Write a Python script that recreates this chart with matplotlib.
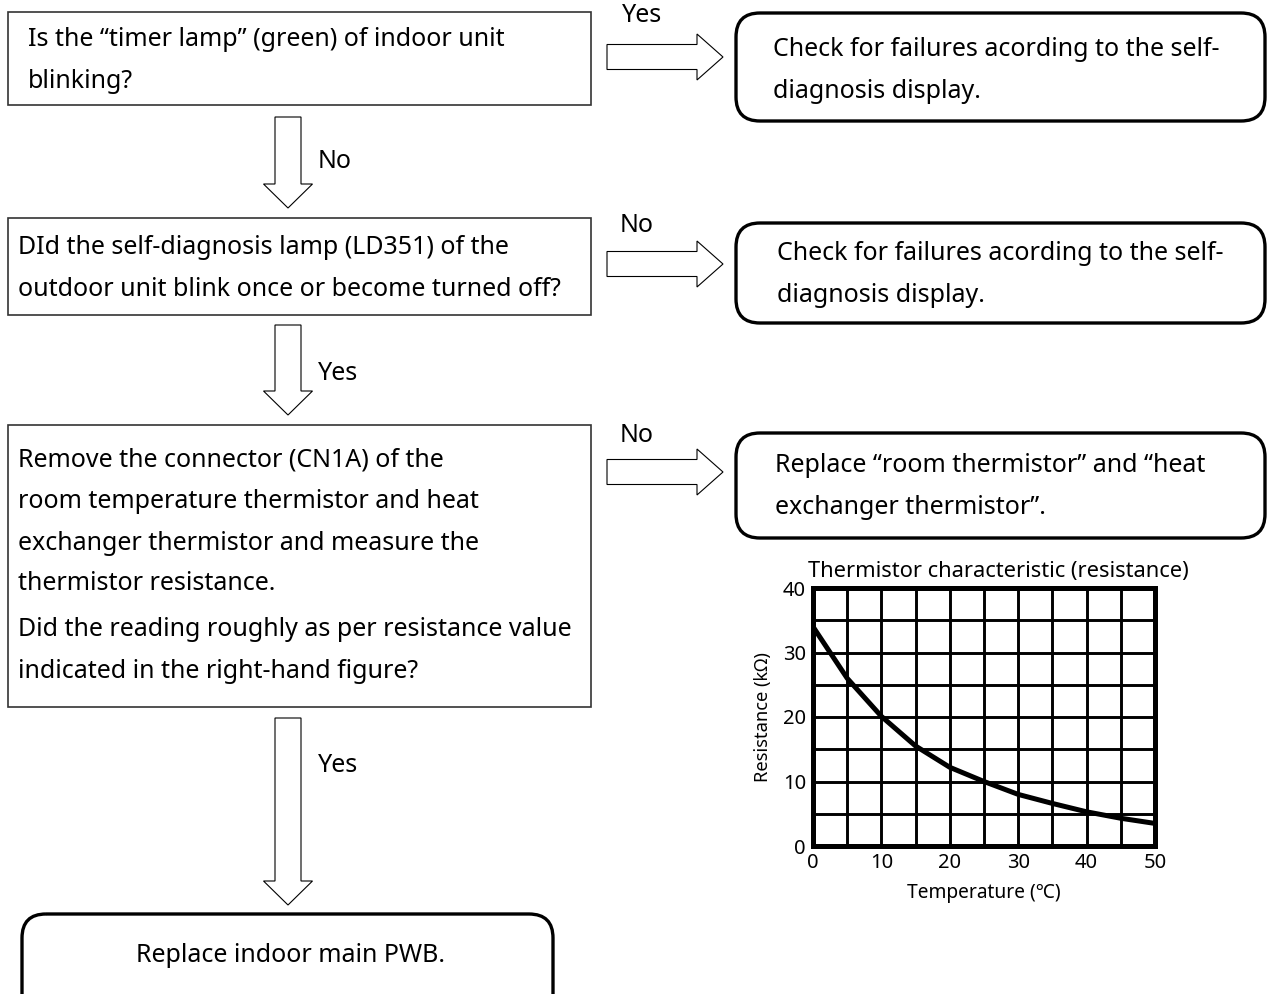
import matplotlib
matplotlib.use("Agg")
import matplotlib.pyplot as plt
from matplotlib.patches import Rectangle, FancyBboxPatch, Polygon

plt.rcParams['font.family'] = ['Noto Sans', 'DejaVu Sans']

# ---- data for the thermistor chart ----
temperature_c = [0, 5, 10, 15, 20, 25, 30, 35, 40, 45, 50]
resistance_kohm = [34.0, 26.0, 20.1, 15.5, 12.2, 10.0, 8.0, 6.6, 5.3, 4.3, 3.5]
x_ticks = [0, 10, 20, 30, 40, 50]
y_ticks = [0, 10, 20, 30, 40]
chart_title = "Thermistor characteristic (resistance)"
x_label = "Temperature (℃)"
y_label = "Resistance (kΩ)"

# ---- flowchart texts ----
q1_lines = ["Is the “timer lamp” (green) of indoor unit", "blinking?"]
q2_lines = ["DId the self-diagnosis lamp (LD351) of the", "outdoor unit blink once or become turned off?"]
q3_lines = ["Remove the connector (CN1A) of the",
            "room temperature thermistor and heat",
            "exchanger thermistor and measure the",
            "thermistor resistance.",
            "Did the reading roughly as per resistance value",
            "indicated in the right-hand figure?"]
r1_lines = ["Check for failures acording to the self-", "diagnosis display."]
r2_lines = ["Check for failures acording to the self-", "diagnosis display."]
r3_lines = ["Replace “room thermistor” and “heat", "exchanger thermistor”."]
final_text = "Replace indoor main PWB."

W, H = 1269, 994
fig = plt.figure(figsize=(W / 100, H / 100), dpi=100)
ax = fig.add_axes([0, 0, 1, 1])
ax.set_xlim(0, W)
ax.set_ylim(H, 0)
ax.axis('off')

FS = 18
LW_BOX = 1.2
LW_RB = 2.4


def rect(x0, y0, x1, y1):
    ax.add_patch(Rectangle((x0, y0), x1 - x0, y1 - y0, fill=False,
                           ec='#333333', lw=LW_BOX))


def rbox(x0, y0, x1, y1, r=24):
    ax.add_patch(FancyBboxPatch((x0 + r, y0 + r), x1 - x0 - 2 * r, y1 - y0 - 2 * r,
                                boxstyle=f"round,pad={r},rounding_size={r}",
                                fill=False, ec='black', lw=LW_RB))


def lines(x, ys, texts, **kw):
    for y, t in zip(ys, texts):
        ax.text(x, y, t, fontsize=FS, va='center', ha=kw.get('ha', 'left'))


def harrow(x0, x1, yc, hs=12.5, hh=23, hl=26):
    xb = x1 - hl
    pts = [(x0, yc - hs), (xb, yc - hs), (xb, yc - hh), (x1, yc),
           (xb, yc + hh), (xb, yc + hs), (x0, yc + hs)]
    ax.add_patch(Polygon(pts, closed=True, fc='white', ec='black', lw=0.8))


def varrow(xc, y0, y1, hs=13, hh=24.5, hl=24):
    yb = y1 - hl
    pts = [(xc - hs, y0), (xc - hs, yb), (xc - hh, yb), (xc, y1),
           (xc + hh, yb), (xc + hs, yb), (xc + hs, y0)]
    ax.add_patch(Polygon(pts, closed=True, fc='white', ec='black', lw=0.8))


# Row 1
rect(8, 12, 591, 105)
lines(28, [40, 81], q1_lines)
harrow(607, 723, 57)
ax.text(622, 16, "Yes", fontsize=FS, va='center')
rbox(736, 13, 1265, 121)
lines(773, [50, 92], r1_lines)

varrow(288, 117, 208)
ax.text(318, 162, "No", fontsize=FS, va='center')

# Row 2
rect(8, 218, 591, 315)
lines(18, [247, 290], q2_lines)
harrow(607, 723, 264)
ax.text(620, 226, "No", fontsize=FS, va='center')
rbox(736, 223, 1265, 323)
lines(777, [253, 296], r2_lines)

varrow(288, 325, 415)
ax.text(318, 373, "Yes", fontsize=FS, va='center')

# Row 3
rect(8, 425, 591, 707)
lines(18, [460, 501, 543, 584, 630, 671], q3_lines)
harrow(607, 723, 472)
ax.text(620, 436, "No", fontsize=FS, va='center')
rbox(736, 433, 1265, 538)
lines(775, [466, 508], r3_lines)

varrow(288, 718, 905)
ax.text(318, 766, "Yes", fontsize=FS, va='center')

# Final box
rbox(22, 914, 553, 1020)
ax.text(290, 956, final_text, fontsize=FS, va='center', ha='center')

# ---- chart ----
cx0, cx1, cy0, cy1 = 813, 1155, 588, 846
cax = fig.add_axes([cx0 / W, 1 - cy1 / H, (cx1 - cx0) / W, (cy1 - cy0) / H])
cax.plot(temperature_c, resistance_kohm, color='black', lw=3.6,
         solid_capstyle='butt', zorder=3)
cax.set_xlim(0, 50)
cax.set_ylim(0, 40)
cax.set_xticks(x_ticks)
cax.set_yticks(y_ticks)
cax.set_xticks(range(5, 50, 10), minor=True)
cax.set_yticks(range(5, 40, 10), minor=True)
cax.grid(True, which='both', color='black', lw=2.1)
cax.tick_params(which='both', length=0, labelsize=14.5, pad=5)
for s in cax.spines.values():
    s.set_linewidth(3.6)
cax.set_xlabel(x_label, fontsize=13.8, labelpad=7)
cax.set_ylabel(y_label, fontsize=13.2, labelpad=8)
fig.text(808 / W, 1 - 572 / H, chart_title, fontsize=15.7, va='center', ha='left')

fig.savefig("out.png", dpi=100)
